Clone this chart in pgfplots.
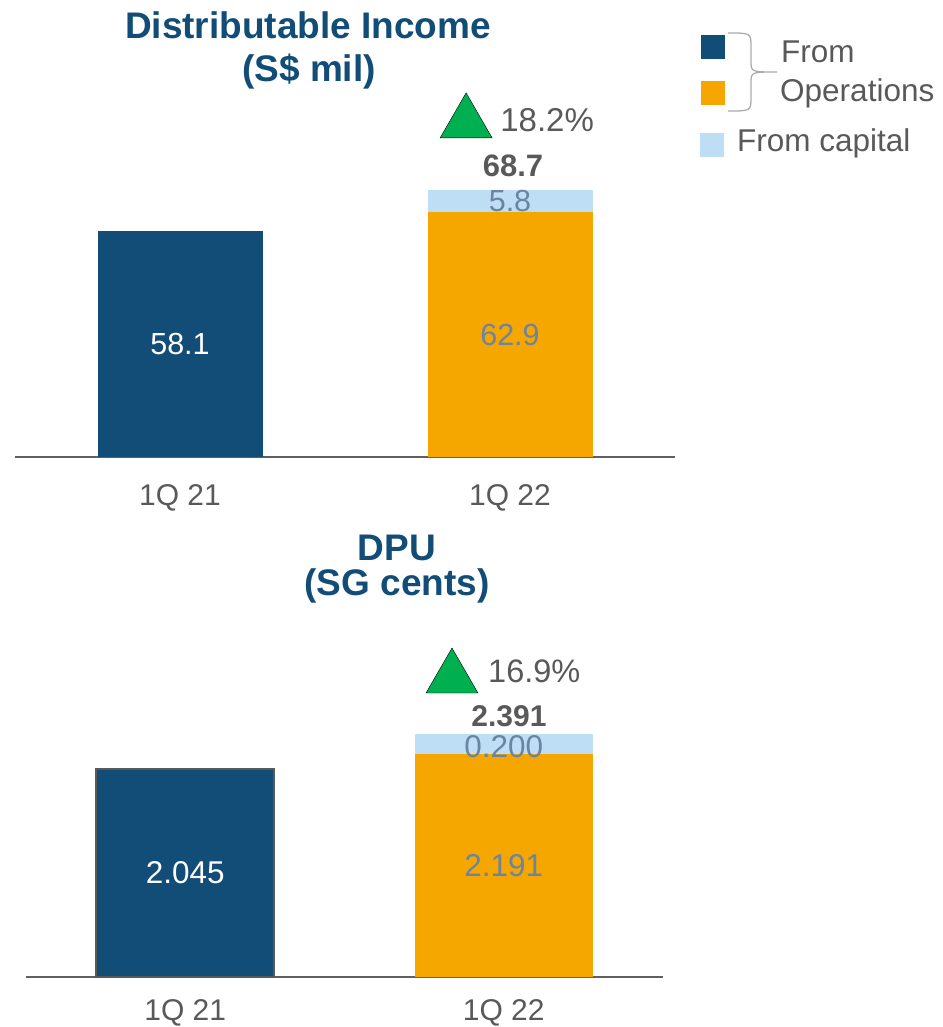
\documentclass[border=0pt]{standalone}
\usepackage{fontspec}
\setmainfont{Liberation Sans}
\usepackage{pgfplots}
\pgfplotsset{compat=1.18}

\definecolor{dblue}{HTML}{114D76}
\definecolor{orng}{HTML}{F5A700}
\definecolor{lblue}{HTML}{BDDEF4}
\definecolor{upgreen}{HTML}{00B050}
\definecolor{txtgray}{HTML}{595959}
\definecolor{seglab}{HTML}{6B84A3}
\definecolor{axgray}{HTML}{606060}

\newcommand{\fs}[1]{\fontsize{#1pt}{#1pt}\selectfont}

\pgfplotsset{
  dchart/.style={
    scale only axis, clip=false,
    anchor=south west,
    xmin=-0.5, xmax=1.5, ymin=0,
    axis x line*=bottom, axis y line=none,
    x axis line style={draw=axgray, line width=2pt},
    xtick={0,1}, xticklabels={1Q 21,1Q 22},
    major tick length=0pt,
    xticklabel style={anchor=base, inner sep=0pt, font=\fs{30}, text=txtgray},
    ytick=\empty,
  },
  barplot/.style={ybar, bar shift=0pt, draw=none},
  up/.style={only marks, mark=triangle*, mark size=30pt,
    mark options={fill=upgreen, draw=none}},
}
\tikzset{lab/.style={inner sep=0pt}}

\begin{document}
\begin{tikzpicture}
\useasboundingbox (0,0) rectangle (942pt,-1027pt);

% Distributable income
\begin{axis}[dchart, at={(15pt,-457pt)}, width=660pt, height=311.2pt, ymax=80,
  xticklabel style={yshift=-48pt}]
\addplot[barplot, bar width=0.5, fill=dblue] coordinates {(0,58.1)};
\addplot[barplot, bar width=0.5, fill=lblue] coordinates {(1,68.7)};
\addplot[barplot, bar width=0.5, fill=orng] coordinates {(1,62.9)};
\addplot[up] coordinates {(0.867,85.9)};
\node[lab, font=\fs{30.5}, text=white] at (0,29.05) {58.1};
\node[lab, font=\fs{30.5}, text=seglab] at (1,31.45) {62.9};
\node[lab, font=\fs{30.5}, text=seglab] at (1,65.7) {5.8};
\node[lab, anchor=base, font=\bfseries\fs{31}, text=txtgray] at (1.009,72.2) {68.7};
\node[lab, anchor=base west, font=\fs{33}, text=txtgray] at (0.97,83.8) {18.2\%};
\end{axis}

% DPU
\begin{axis}[dchart, at={(26pt,-976.7pt)}, width=637pt, height=304.7pt, ymax=3,
  xticklabel style={yshift=-44pt}]
\addplot[barplot, bar width=0.56, fill=dblue, draw=txtgray, line width=2pt] coordinates {(0,2.045)};
\addplot[barplot, bar width=0.56, fill=lblue] coordinates {(1,2.391)};
\addplot[barplot, bar width=0.56, fill=orng] coordinates {(1,2.191)};
\addplot[up] coordinates {(0.8375,2.941)};
\node[lab, font=\fs{31.5}, text=white] at (0,1.02) {2.045};
\node[lab, font=\fs{31.5}, text=seglab] at (1,1.09) {2.191};
\node[lab, font=\fs{31.5}, text=seglab] at (1,2.27) {0.200};
\node[lab, anchor=base, font=\bfseries\fs{30}, text=txtgray] at (1.0165,2.461) {2.391};
\node[lab, anchor=base west, font=\fs{32.5}, text=txtgray] at (0.9505,2.892) {16.9\%};
\end{axis}

\begin{scope}[x=1pt, y=-1pt]
% titles
\node[lab, anchor=base, font=\bfseries\fs{37}, text=dblue] at (308,39) {Distributable Income};
\node[lab, anchor=base, font=\bfseries\fs{37}, text=dblue] at (309,82) {(S\$ mil)};
\node[lab, anchor=base, font=\bfseries\fs{37}, text=dblue] at (397,560) {DPU};
\node[lab, anchor=base, font=\bfseries\fs{37}, text=dblue] at (397,595) {(SG cents)};
% legend
\fill[dblue] (700.5,35) rectangle (725,59);
\fill[orng] (700.5,81) rectangle (725,105);
\fill[lblue] (700,133) rectangle (724,157);
\draw[gray!65, line width=1.3pt]
  (728,33) .. controls (751,33) .. (751,47) -- (751,61) .. controls (751,72) .. (777,72)
  .. controls (751,72) .. (751,83) -- (751,97) .. controls (751,111) .. (728,111);
\node[lab, anchor=base west, font=\fs{31.5}, text=txtgray] at (781,62.7) {From};
\node[lab, anchor=base west, font=\fs{31.5}, text=txtgray] at (780,101.7) {Operations};
\node[lab, anchor=base west, font=\fs{31.5}, text=txtgray] at (737,152) {From capital};
\end{scope}
\end{tikzpicture}
\end{document}
